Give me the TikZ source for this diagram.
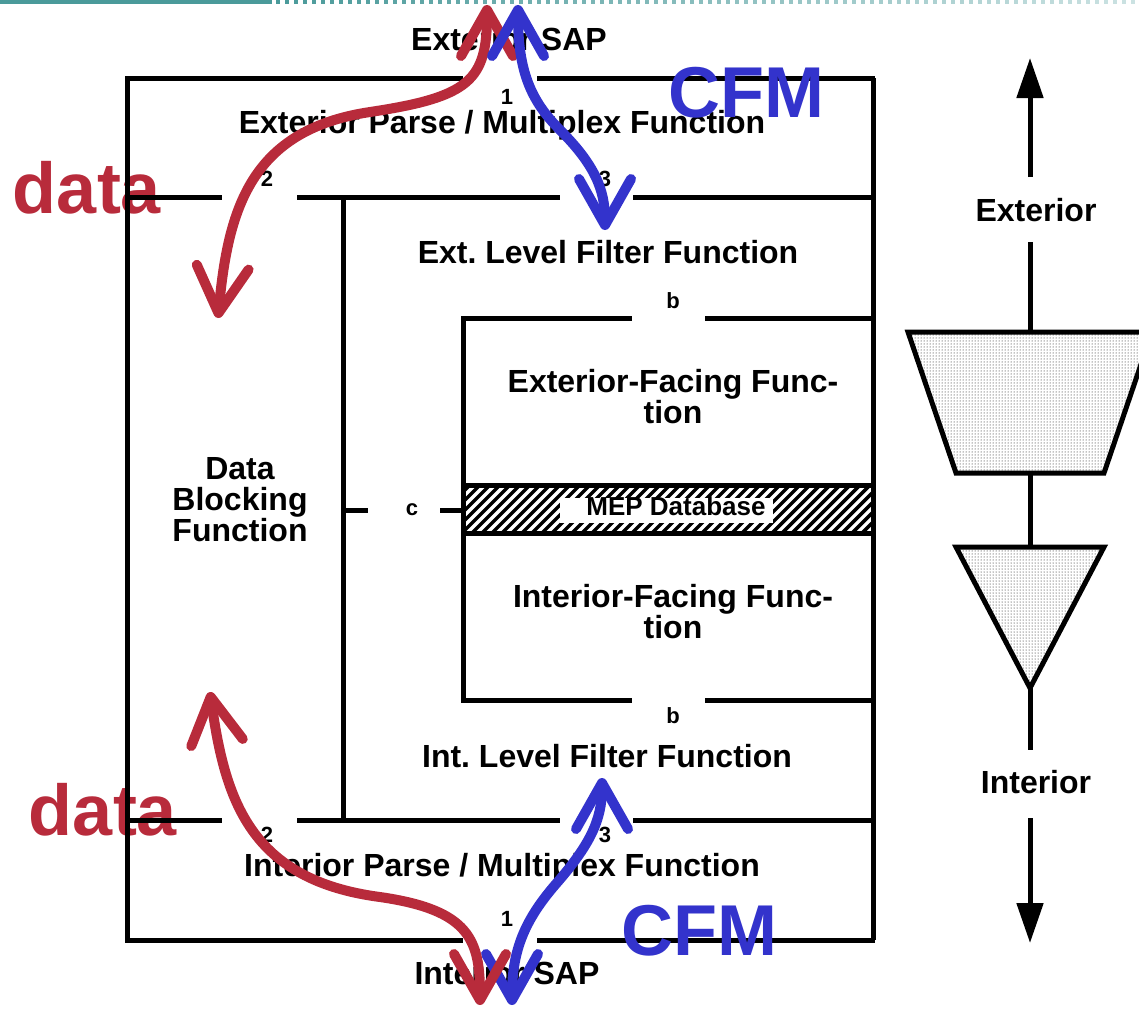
\documentclass[tikz,border=0pt]{standalone}
\usepackage{fontspec}
\setmainfont{Liberation Sans}
\usetikzlibrary{arrows.meta,patterns}
\definecolor{datared}{RGB}{184,43,59}
\definecolor{cfmblue}{RGB}{51,51,204}
\definecolor{rulegreen}{RGB}{74,154,154}

\begin{document}
\begin{tikzpicture}[x=1pt,y=-1pt]
\tikzstyle{wall}=[line width=5pt]
\tikzstyle{lbl}=[inner sep=0pt, font=\fontsize{32}{31}\selectfont\bfseries, align=center]
\tikzstyle{tag}=[inner sep=0pt, font=\fontsize{22}{22}\selectfont\bfseries]
\tikzstyle{big}=[inner sep=0pt, font=\fontsize{72}{72}\selectfont\bfseries]
\tikzstyle{flow}=[line width=10pt, line cap=round, {Straight Barb[length=46pt,width=52pt,round]}-{Straight Barb[length=46pt,width=52pt,round]}]
\tikzstyle{funnel}=[line width=5pt, line join=miter, pattern=dots, pattern color=black]
\tikzstyle{axis}=[line width=5pt]
\clip (0,0) rectangle (1139,1010);

% header rule
\draw[rulegreen, line width=4pt] (0,2) -- (272,2);
\foreach \i in {0,...,95} {
	\pgfmathsetmacro{\op}{1-0.0075*\i}
	\fill[rulegreen, opacity=\op] (276+9*\i,0) rectangle +(3.5,3.5);
}

% data labels
\node[big, text=datared, anchor=base] (data_e) at (87,213) {data};
\node[big, text=datared, anchor=base] (data_i) at (103,835) {data};

% frame
\draw[wall] (127,78) -- (127,940);
\draw[wall] (873,78) -- (873,940);
\draw[wall] (125,78) -- (463,78);
\draw[wall] (537,78) -- (875,78);
\draw[wall] (125,940) -- (463,940);
\draw[wall] (537,940) -- (875,940);
\foreach \y in {197,820} {
	\draw[wall] (127,\y) -- (222,\y);
	\draw[wall] (297,\y) -- (560,\y);
	\draw[wall] (633,\y) -- (873,\y);
}
\draw[wall] (343,197) -- (343,820);
\draw[wall] (343,510) -- (368,510);
\draw[wall] (440,510) -- (463,510);
\draw[wall] (463,318) -- (463,700);
\foreach \y in {318,700} {
	\draw[wall] (461,\y) -- (632,\y);
	\draw[wall] (705,\y) -- (873,\y);
}

% MEP band
\begin{scope}
	\clip (463,485) rectangle (873,533);
	\foreach \k in {0,10,...,480}
		\draw[line width=3.5pt] (400+\k,545) -- (470+\k,475);
\end{scope}
\draw[wall] (461,485) -- (873,485);
\draw[wall] (461,533) -- (873,533);
\fill[white] (560,498) rectangle (773,523);
\node[inner sep=0pt, font=\fontsize{26}{26}\selectfont\bfseries, anchor=base] (mep) at (676,515) {MEP Database};

% texts
\node[lbl, anchor=base] (ext_sap) at (509,50) {Exterior SAP};
\node[tag, anchor=base] (p1_e) at (507,104) {1};
\node[lbl, anchor=base] (ext_pm) at (502,133) {Exterior Parse / Multiplex Function};
\node[tag, anchor=base] (p2_e) at (267,186) {2};
\node[tag, anchor=base] (p3_e) at (605,186) {3};
\node[lbl, anchor=base] (ext_lf) at (608,263) {Ext.\ Level Filter Function};
\node[tag, anchor=base] (b_e) at (673,308) {b};
\node[lbl] (ext_ff) at (673,397) {Exterior-Facing Func-\\tion};
\node[tag, anchor=base] (c) at (412,515) {c};
\node[lbl] (dbf) at (240,500) {Data\\Blocking\\Function};
\node[lbl] (int_ff) at (673,612) {Interior-Facing Func-\\tion};
\node[tag, anchor=base] (b_i) at (673,723) {b};
\node[lbl, anchor=base] (int_lf) at (607,767) {Int.\ Level Filter Function};
\node[tag, anchor=base] (p2_i) at (267,842) {2};
\node[tag, anchor=base] (p3_i) at (605,842) {3};
\node[lbl, anchor=base] (int_pm) at (502,876) {Interior Parse / Multiplex Function};
\node[tag, anchor=base] (p1_i) at (507,926) {1};
\node[lbl, anchor=base] (int_sap) at (507,984) {Interior SAP};

\node[big, text=cfmblue, anchor=base] (cfm_e) at (746,117) {CFM};
\node[big, text=cfmblue, anchor=base] (cfm_i) at (699,955) {CFM};

% level axis
\node[lbl, anchor=base] (exterior) at (1036,221) {Exterior};
\node[lbl, anchor=base] (interior) at (1036,793) {Interior};
\coordinate (ax_top) at (1030,58);
\coordinate (ax_bot) at (1030,943);
\draw[axis, -{Triangle[length=40pt,width=26pt]}] (1030,177) -- (ax_top);
\draw[axis] (1030,242) -- (1030,332);
\draw[axis] (1030,473) -- (1030,547);
\draw[axis] (1030,688) -- (1030,750);
\draw[axis, -{Triangle[length=40pt,width=26pt]}] (1030,818) -- (ax_bot);
\draw[funnel] (908,332) -- (1152,332) -- (1104,473) -- (956,473) -- cycle;
\draw[funnel] (956,547) -- (1104,547) -- (1030,688) -- cycle;

% data and CFM flows
\coordinate (red_sap_e) at (487,5);
\coordinate (red_dbf_e) at (218,318);
\coordinate (blue_sap_e) at (518,5);
\coordinate (blue_lf_e) at (605,230);
\coordinate (red_sap_i) at (480,1005);
\coordinate (red_dbf_i) at (210,692);
\coordinate (blue_sap_i) at (512,1005);
\coordinate (blue_lf_i) at (602,778);
\draw[flow, datared] (red_dbf_e) .. controls (228,210) and (250,130) .. (370,112) .. controls (470,97) and (487,80) .. (red_sap_e);
\draw[flow, cfmblue] (blue_sap_e) .. controls (518,70) and (530,100) .. (560,130) .. controls (595,165) and (605,190) .. (blue_lf_e);
\draw[flow, cfmblue] (blue_sap_i) .. controls (512,950) and (525,920) .. (555,885) .. controls (590,845) and (602,820) .. (blue_lf_i);
\draw[flow, datared] (red_dbf_i) .. controls (225,800) and (250,880) .. (380,897) .. controls (470,910) and (480,940) .. (red_sap_i);
\end{tikzpicture}
\end{document}
